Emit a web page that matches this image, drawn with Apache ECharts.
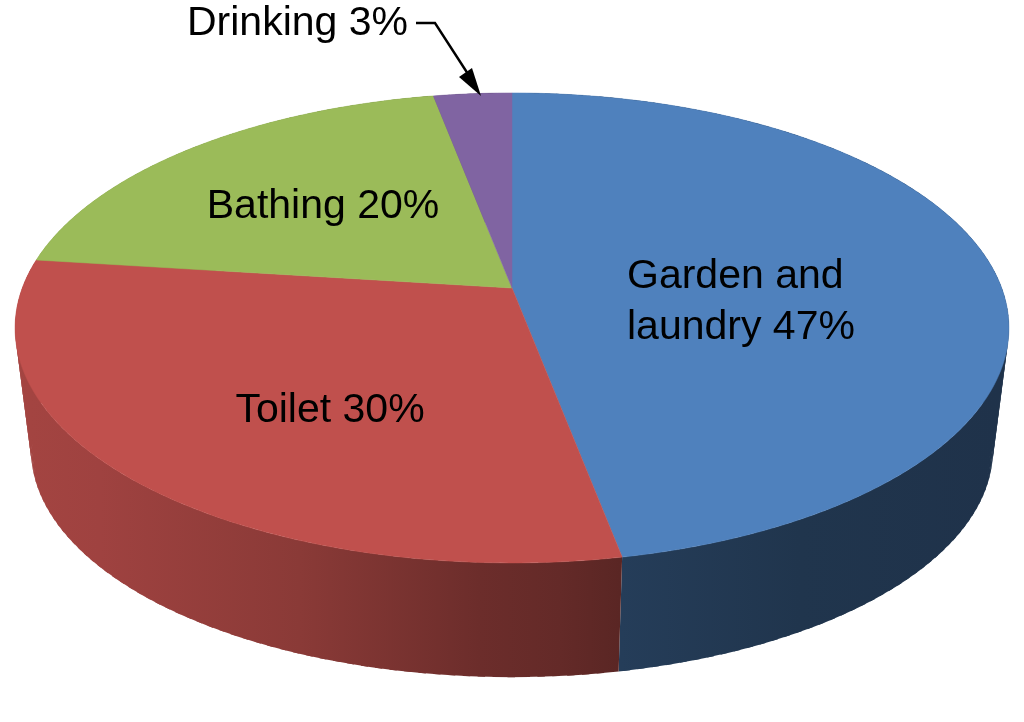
<!DOCTYPE html>
<html><head><meta charset="utf-8">
<style>html,body{margin:0;padding:0;background:#fff}#c{width:1024px;height:722px}</style>
<script src="https://cdn.jsdelivr.net/npm/echarts@6/dist/echarts.min.js"></script>
</head><body><div id="c"></div>
<script>
const categories = ['Garden and laundry', 'Toilet', 'Bathing', 'Drinking'];
const values = [47, 30, 20, 3];
const labelTexts = ['Garden and\nlaundry 47%', 'Toilet 30%', 'Bathing 20%'];
const calloutText = 'Drinking 3%';
const colors = ['#4f81bd', '#c0504d', '#9bbb59', '#8064a2'];

// projection of the disc (perspective tilt)
const CX = 512, K = -0.17, A = 489.7, B = 228.2;
const TOP_Y = 288, BOT_Y = 411, BOT_S = 0.968;
const total = values.reduce((a, b) => a + b, 0);
const starts = []; values.reduce((s, v, i) => (starts[i] = s, s + v), 0);
function proj(theta, y0, s) {
  const u = Math.sin(theta), v = -Math.cos(theta), w = 1 + K * v;
  return [CX + s * A * u / w, y0 + s * B * v / w];
}
// wall brightness against horizontal position on the page
const shadeStops = [[0, .86], [31, .85], [100, .83], [300, .72], [480, .56], [560, .52], [620, .47], [800, .41], [1000, .39], [1024, .39]];
function mix(hex, f) {
  const n = parseInt(hex.slice(1), 16);
  return 'rgb(' + [(n >> 16) & 255, (n >> 8) & 255, n & 255].map(c => Math.round(c * f)).join(',') + ')';
}
function wallFill(hex) {
  return {
    type: 'linear', x: 0, y: 0, x2: 1024, y2: 0, global: true,
    colorStops: shadeStops.map(s => ({ offset: s[0] / 1024, color: mix(hex, s[1]) }))
  };
}
function rangeOf(i, v) {
  const a0 = starts[i] / total * 2 * Math.PI;
  return [a0, a0 + v / total * 2 * Math.PI];
}
function renderSide(params, api) {
  const i = params.dataIndex, [a0, a1] = rangeOf(i, api.value(0));
  const step = 2 * Math.PI / 240, children = [], fill = wallFill(colors[i]);
  for (let a = a0; a < a1 - 1e-6; a += step) {
    const b = Math.min(a + step * 1.5, a1);
    children.push({
      type: 'polygon',
      shape: { points: [proj(a, TOP_Y, 1), proj(b, TOP_Y, 1), proj(b, BOT_Y, BOT_S), proj(a, BOT_Y, BOT_S)] },
      style: { fill }
    });
  }
  return { type: 'group', children };
}
function renderTop(params, api) {
  const i = params.dataIndex, [a0, a1] = rangeOf(i, api.value(0));
  const pts = [[CX, TOP_Y]], n = Math.max(4, Math.ceil((a1 - a0) * 180 / Math.PI));
  for (let j = 0; j <= n; j++) pts.push(proj(a0 + (a1 - a0) * j / n, TOP_Y, 1));
  return { type: 'polygon', shape: { points: pts }, style: { fill: colors[i], stroke: colors[i], lineWidth: 0.5 } };
}
const labelAnchor = [[627, 302, 'left'], [330, 411, 'center'], [323, 207, 'center']];
const font = '41px "Liberation Sans", Arial, sans-serif';
const chart = echarts.init(document.getElementById('c'), null, { renderer: 'canvas' });
chart.setOption({
  animation: false,
  backgroundColor: '#fff',
  series: [
    { type: 'custom', name: 'side', coordinateSystem: 'none', z: 1, silent: true, renderItem: renderSide,
      data: values.map((v, i) => ({ name: categories[i], value: [v] })) },
    { type: 'custom', name: 'top', coordinateSystem: 'none', z: 2, silent: true, renderItem: renderTop,
      data: values.map((v, i) => ({ name: categories[i], value: [v] })) }
  ],
  graphic: [
    ...labelTexts.map((t, i) => ({
      type: 'text', z: 10, x: labelAnchor[i][0], y: labelAnchor[i][1],
      style: { text: t, fill: '#000', font, align: labelAnchor[i][2], verticalAlign: 'middle', lineHeight: 51 }
    })),
    { type: 'text', z: 10, x: 408, y: 24,
      style: { text: calloutText, fill: '#000', font, align: 'right', verticalAlign: 'middle' } },
    { type: 'polyline', z: 10, shape: { points: [[416, 23], [435, 23], [468, 74]] },
      style: { stroke: '#000', lineWidth: 2.4, fill: null } },
    { type: 'polygon', z: 10, shape: { points: [[481, 96], [459, 77], [472, 68]] }, style: { fill: '#000' } }
  ]
});
</script></body></html>
